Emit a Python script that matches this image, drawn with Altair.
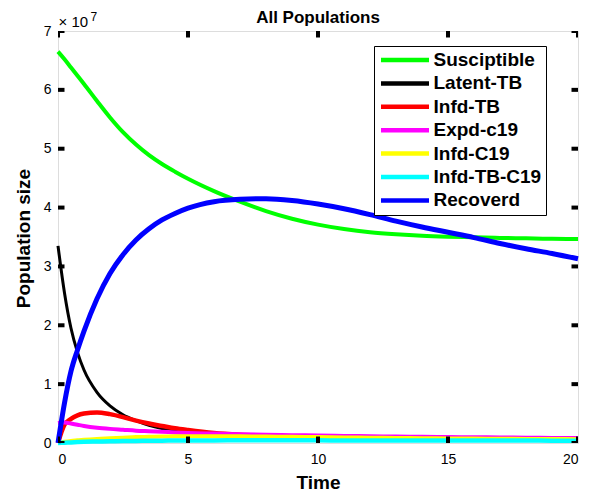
import altair as alt
import pandas as pd

# ---- data (population values in units of 1e7) ----
SCALE = 1e7
time = [0, 0.25, 0.5, 0.75, 1, 1.5, 2, 2.5, 3, 3.5, 4, 4.5, 5, 6, 7, 8, 9, 10,
        11, 12, 13, 14, 15, 16, 17, 18, 19, 20]
susceptible = [6.65, 6.52, 6.38, 6.24, 6.10, 5.81, 5.53, 5.28, 5.07, 4.89, 4.74,
               4.61, 4.49, 4.28, 4.10, 3.94, 3.81, 3.71, 3.635, 3.58, 3.545,
               3.52, 3.505, 3.495, 3.485, 3.477, 3.47, 3.465]
latent_tb = [3.35, 2.55, 1.95, 1.54, 1.24, 0.86, 0.63, 0.48, 0.38, 0.30, 0.245,
             0.205, 0.175, 0.135, 0.115, 0.10, 0.092, 0.085, 0.08, 0.076, 0.072,
             0.07, 0.068, 0.066, 0.064, 0.062, 0.06, 0.058]
infd_tb = [0.0, 0.31, 0.41, 0.47, 0.50, 0.52, 0.49, 0.44, 0.38, 0.33, 0.29,
           0.25, 0.22, 0.17, 0.14, 0.12, 0.105, 0.095, 0.088, 0.082, 0.077,
           0.072, 0.068, 0.064, 0.06, 0.057, 0.054, 0.051]
expd_c19 = [0.34, 0.35, 0.33, 0.31, 0.29, 0.26, 0.24, 0.225, 0.21, 0.20, 0.19,
            0.18, 0.17, 0.16, 0.15, 0.14, 0.133, 0.127, 0.12, 0.115, 0.11,
            0.105, 0.10, 0.097, 0.094, 0.09, 0.087, 0.085]
infd_c19 = [0.0, 0.02, 0.035, 0.045, 0.055, 0.07, 0.08, 0.09, 0.10, 0.105, 0.11,
            0.113, 0.115, 0.115, 0.113, 0.11, 0.105, 0.10, 0.095, 0.09, 0.086,
            0.082, 0.078, 0.075, 0.072, 0.07, 0.067, 0.065]
infd_tb_c19 = [0.0, 0.005, 0.01, 0.015, 0.02, 0.025, 0.03, 0.033, 0.036, 0.038,
               0.04, 0.041, 0.042, 0.044, 0.045, 0.045, 0.045, 0.045, 0.044,
               0.044, 0.043, 0.043, 0.042, 0.042, 0.041, 0.041, 0.04, 0.04]
recovered = [0.0, 0.68, 1.22, 1.58, 1.90, 2.45, 2.88, 3.20, 3.45, 3.64, 3.79,
             3.90, 3.99, 4.10, 4.14, 4.15, 4.12, 4.06, 3.98, 3.88, 3.77, 3.67,
             3.58, 3.49, 3.39, 3.30, 3.22, 3.13]

series_names = ["Susciptible", "Latent-TB", "Infd-TB", "Expd-c19", "Infd-C19",
                "Infd-TB-C19", "Recoverd"]
series_values = [susceptible, latent_tb, infd_tb, expd_c19, infd_c19,
                 infd_tb_c19, recovered]
series_colors = ["#00ff00", "#000000", "#ff0000", "#ff00ff", "#ffff00",
                 "#00ffff", "#0000ff"]
series_widths = [4, 3, 4.5, 4, 4, 4.5, 5]

x_ticks = [0, 5, 10, 15, 20]
y_ticks = [0, 1, 2, 3, 4, 5, 6, 7]
X_MAX = 20
Y_MAX = 7
TITLE = "All Populations"

FONT = "Liberation Sans"

rows = []
for name, vals in zip(series_names, series_values):
    for t, v in zip(time, vals):
        rows.append({"t": t, "pop": v * SCALE, "series": name})
df = pd.DataFrame(rows)

x_scale = alt.Scale(domain=[0, X_MAX], nice=False, zero=False)
y_scale = alt.Scale(domain=[0, Y_MAX * SCALE], nice=False)
color_scale = alt.Scale(domain=series_names, range=series_colors)

x_enc = alt.X("t:Q", scale=x_scale,
              axis=alt.Axis(values=x_ticks, title="Time", titleFontSize=19,
                            titleFontWeight="bold", titleFont=FONT,
                            titleY=45, titleBaseline="alphabetic",
                            labelPadding=9, labelFontSize=14, labelFont=FONT,
                            domain=False, ticks=False, tickSize=0, grid=False,
                            labelColor="black", titleColor="black"))
y_enc = alt.Y("pop:Q", scale=y_scale,
              axis=alt.Axis(values=[v * SCALE for v in y_ticks],
                            labelExpr="format(datum.value / 1e7, 'd')",
                            title="Population size", titleFontSize=19,
                            titleFontWeight="bold", titleFont=FONT,
                            titleX=-28.5, titleY=207, titleAngle=270,
                            titleBaseline="alphabetic", titleAlign="center",
                            labelPadding=7, labelFontSize=14, labelFont=FONT,
                            domain=False, ticks=False, tickSize=0, grid=False,
                            labelColor="black", titleColor="black"))

legend = alt.Legend(
    title=None, orient="none", legendX=316, legendY=15,
    symbolType="stroke", symbolSize=2304, symbolStrokeWidth=4.5,
    clipHeight=19, rowPadding=3.4, padding=4.5,
    labelFontSize=19, labelFontWeight="bold", labelFont=FONT, labelColor="black",
    labelOffset=2, labelExpr="datum.label + '   '",
    strokeColor="black", fillColor="white",
)

layers = []
for name, w in zip(series_names, series_widths):
    layers.append(
        alt.Chart(df)
        .transform_filter(alt.datum.series == name)
        .mark_line(strokeWidth=w, interpolate="monotone")
        .encode(x=x_enc, y=y_enc,
                color=alt.Color("series:N", scale=color_scale, legend=legend,
                                sort=series_names))
    )

# inward tick marks on all four sides (box style)
yt_df = pd.DataFrame({"v": [v * SCALE for v in y_ticks]})
xt_df = pd.DataFrame({"t": x_ticks})
tick_style = dict(color="black", thickness=4, size=13, clip=True, opacity=1)
left_ticks = alt.Chart(yt_df).mark_tick(orient="horizontal", **tick_style).encode(
    x=alt.datum(0, scale=x_scale), y=alt.Y("v:Q", scale=y_scale))
right_ticks = alt.Chart(yt_df).mark_tick(orient="horizontal", **tick_style).encode(
    x=alt.datum(X_MAX, scale=x_scale), y=alt.Y("v:Q", scale=y_scale))
bottom_ticks = alt.Chart(xt_df).mark_tick(orient="vertical", **tick_style).encode(
    x=alt.X("t:Q", scale=x_scale), y=alt.datum(0, scale=y_scale))
top_ticks = alt.Chart(xt_df).mark_tick(orient="vertical", **tick_style).encode(
    x=alt.X("t:Q", scale=x_scale), y=alt.datum(Y_MAX * SCALE, scale=y_scale))

# axis exponent label  x10^7 and the title, anchored to the top of the axes
top_df = pd.DataFrame({"t": [0], "v": [Y_MAX * SCALE]})
exp_base = alt.Chart(top_df).mark_text(
    text="\u00d7 10", font=FONT, fontSize=15, color="black", align="left",
    baseline="alphabetic", dx=0.5, dy=-4.5).encode(
    x=alt.X("t:Q", scale=x_scale), y=alt.Y("v:Q", scale=y_scale))
exp_pow = alt.Chart(top_df).mark_text(
    text="7", font=FONT, fontSize=12, color="black", align="left",
    baseline="alphabetic", dx=32.5, dy=-10.5).encode(
    x=alt.X("t:Q", scale=x_scale), y=alt.Y("v:Q", scale=y_scale))
title_mark = alt.Chart(top_df).mark_text(
    text=TITLE, font=FONT, fontSize=17, fontWeight="bold", color="black",
    align="center", baseline="alphabetic", dy=-8.3).encode(
    x=alt.datum(X_MAX / 2, scale=x_scale), y=alt.Y("v:Q", scale=y_scale))

chart = alt.layer(*layers, left_ticks, right_ticks, bottom_ticks, top_ticks,
                  exp_base, exp_pow, title_mark).properties(
    width=520, height=412,
    autosize=alt.AutoSizeParams(type="none"),
    padding={"left": 50, "top": 23, "right": 7, "bottom": 49},
).configure_view(stroke="black", strokeWidth=3).configure_legend(
    strokeWidth=3).configure(background="white")

chart.save("out.html", embed_options={"renderer": "svg", "actions": False})
